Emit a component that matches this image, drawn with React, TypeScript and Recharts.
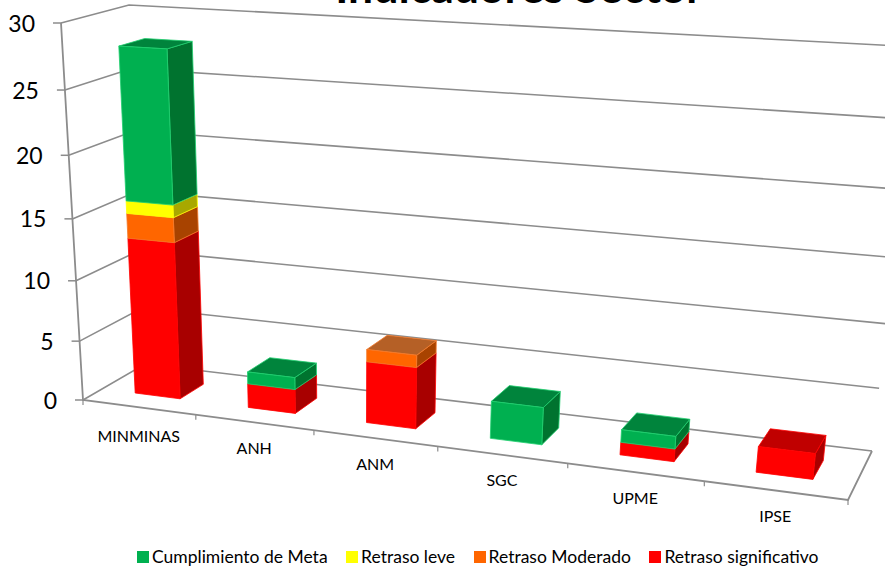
import { BarChart, Bar, XAxis, YAxis, CartesianGrid, Legend } from 'recharts'

const categories = ['MINMINAS', 'ANH', 'ANM', 'SGC', 'UPME', 'IPSE']
const significativo = [13, 2, 5, 0, 1, 2]
const moderado = [2, 0, 1, 0, 0, 0]
const leve = [1, 0, 0, 0, 0, 0]
const cumplimiento = [12, 1, 0, 3, 1, 0]
const yTicks = [0, 5, 10, 15, 20, 25, 30]

const tableData = categories.map((name, i) => ({
  name,
  significativo: significativo[i],
  moderado: moderado[i],
  leve: leve[i],
  cumplimiento: cumplimiento[i],
}))

const seriesOrder = ['significativo', 'moderado', 'leve', 'cumplimiento']

const W = 885
const H = 568
const FONT = 'Lato, "Open Sans", sans-serif'
const AXIS_COLOR = '#8c8c8c'

// flat plot box the library scales into, before it is bent into perspective
const PLOT = { left: 60, top: 40, width: 760, height: 420 }

type Pt = [number, number]

function quadMap(p0: Pt, p1: Pt, p2: Pt, p3: Pt) {
  const dx1 = p1[0] - p2[0]
  const dx2 = p3[0] - p2[0]
  const sx = p0[0] - p1[0] + p2[0] - p3[0]
  const dy1 = p1[1] - p2[1]
  const dy2 = p3[1] - p2[1]
  const sy = p0[1] - p1[1] + p2[1] - p3[1]
  const den = dx1 * dy2 - dx2 * dy1
  const g = (sx * dy2 - dx2 * sy) / den
  const h = (dx1 * sy - sx * dy1) / den
  const a = p1[0] - p0[0] + g * p1[0]
  const b = p3[0] - p0[0] + h * p3[0]
  const d = p1[1] - p0[1] + g * p1[1]
  const e = p3[1] - p0[1] + h * p3[1]
  return (u: number, v: number): Pt => {
    const q = g * u + h * v + 1
    return [(a * u + b * v + p0[0]) / q, (d * u + e * v + p0[1]) / q]
  }
}

const frontWall = quadMap([83, 400], [848, 500], [895, 68], [61, 23])
const backWall = quadMap([145, 364], [872, 451], [918, 47], [129, 5])

function project(u: number, v: number, w: number): Pt {
  const f = frontWall(u, v)
  const b = backWall(u, v)
  return [f[0] + (b[0] - f[0]) * w, f[1] + (b[1] - f[1]) * w]
}

const toU = (x: number) => (x - PLOT.left) / PLOT.width
const toV = (y: number) => (PLOT.top + PLOT.height - y) / PLOT.height
const pts = (list: Pt[]) => list.map(p => `${p[0].toFixed(1)},${p[1].toFixed(1)}`).join(' ')

const BAR_FRONT = 0.31
const BAR_BACK = 0.7

const faceColors: Record<string, { side: string; top: string; edge: string }> = {
  significativo: { side: '#a80000', top: '#c00000', edge: '#ff0000' },
  moderado: { side: '#a84300', top: '#b56026', edge: '#f2782a' },
  leve: { side: '#a8a800', top: '#c0c000', edge: '#ffff00' },
  cumplimiento: { side: '#00732f', top: '#00843c', edge: '#1fcf6f' },
}

function Bar3D(props: any) {
  const { x, y, width, height, fill, payload, seriesKey } = props
  if (!height || height <= 0) return null
  const u0 = toU(x)
  const u1 = toU(x + width)
  const vLow = toV(y + height)
  const vHigh = toV(y)
  const colors = faceColors[seriesKey]
  const idx = seriesOrder.indexOf(seriesKey)
  const isTop = seriesOrder.slice(idx + 1).every(k => !payload[k])

  const front = [project(u0, vLow, BAR_FRONT), project(u1, vLow, BAR_FRONT), project(u1, vHigh, BAR_FRONT), project(u0, vHigh, BAR_FRONT)]
  const side = [project(u1, vLow, BAR_FRONT), project(u1, vLow, BAR_BACK), project(u1, vHigh, BAR_BACK), project(u1, vHigh, BAR_FRONT)]
  const top = [project(u0, vHigh, BAR_FRONT), project(u1, vHigh, BAR_FRONT), project(u1, vHigh, BAR_BACK), project(u0, vHigh, BAR_BACK)]

  return (
    <g>
      <polygon points={pts(side)} fill={colors.side} stroke={colors.edge} strokeWidth={0.8} strokeLinejoin="round" />
      {isTop && <polygon points={pts(top)} fill={colors.top} stroke={colors.edge} strokeWidth={0.8} strokeLinejoin="round" />}
      <polygon points={pts(front)} fill={fill} stroke={colors.edge} strokeWidth={0.8} strokeLinejoin="round" />
    </g>
  )
}

function wallLine(props: any) {
  const v = toV(props.y1)
  const floor = Math.abs(v) < 1e-6
  const path = [project(0, v, 0), project(0, v, 1), project(1, v, 1)]
  return (
    <g key={`wall-${props.y1}`}>
      <polyline points={pts(path)} fill="none" stroke={AXIS_COLOR} strokeWidth={1.6} />
      {floor && (
        <polyline
          points={pts([project(0, 1, 0), project(0, 0, 0), project(1, 0, 0), project(1, 0, 1)])}
          fill="none"
          stroke={AXIS_COLOR}
          strokeWidth={1.8}
        />
      )}
    </g>
  )
}

function YTick(props: any) {
  const { y, payload } = props
  const p = project(0, toV(y), 0)
  return (
    <g>
      <line x1={p[0] - 8} y1={p[1]} x2={p[0]} y2={p[1]} stroke={AXIS_COLOR} strokeWidth={1.5} />
      <text x={p[0] - 26} y={p[1] + 8.5} textAnchor="end" fontFamily={FONT} fontSize={23} fill="#000">
        {payload.value}
      </text>
    </g>
  )
}

function XTick(props: any) {
  const { x, payload, index } = props
  const step = 1 / categories.length
  const u = toU(x)
  const p = project(u, 0, 0)
  const right = project(u + step / 2, 0, 0)
  const left = project(u - step / 2, 0, 0)
  return (
    <g>
      {index === 0 && <line x1={left[0]} y1={left[1]} x2={left[0]} y2={left[1] + 5} stroke={AXIS_COLOR} strokeWidth={1.2} />}
      <line x1={right[0]} y1={right[1]} x2={right[0]} y2={right[1] + 5} stroke={AXIS_COLOR} strokeWidth={1.2} />
      <text x={p[0]} y={p[1] + (index === 0 ? 35 : 31.5)} textAnchor="middle" fontFamily={FONT} fontSize={16} fill="#000">
        {payload.value}
      </text>
    </g>
  )
}

const legendLabels: Record<string, string> = {
  cumplimiento: 'Cumplimiento de Meta',
  leve: 'Retraso leve',
  moderado: 'Retraso Moderado',
  significativo: 'Retraso significativo',
}
const legendOrder = ['cumplimiento', 'leve', 'moderado', 'significativo'].map(k => legendLabels[k])

function LegendContent({ payload }: any) {
  const items = [...(payload || [])].sort((a, b) => legendOrder.indexOf(a.value) - legendOrder.indexOf(b.value))
  return (
    <div style={{ display: 'flex', gap: 18.5, fontFamily: FONT, fontSize: 17.5, lineHeight: '20px', color: '#000', whiteSpace: 'nowrap' }}>
      {items.map((item: any) => (
        <span key={item.value} style={{ display: 'flex', alignItems: 'center', gap: 3 }}>
          <span style={{ width: 12, height: 12, background: item.color, display: 'inline-block' }} />
          {item.value}
        </span>
      ))}
    </div>
  )
}

export default function App() {
  return (
    <div style={{ position: 'absolute', left: 0, top: 0, width: W, height: H, background: '#fff' }}>
      <BarChart
        width={W}
        height={H}
        data={tableData}
        barCategoryGap="30%"
        margin={{ top: PLOT.top, left: PLOT.left - 1, right: W - PLOT.left - PLOT.width, bottom: H - PLOT.top - PLOT.height - 1 }}
      >
        <text x={519} y={3} textAnchor="middle" fontFamily={FONT} fontSize={44.5} fontWeight={700} fill="#000">
          Indicadores Sector
        </text>
        <CartesianGrid horizontal={wallLine} vertical={false} />
        <XAxis dataKey="name" height={1} interval={0} axisLine={false} tickLine={false} tick={XTick} />
        <YAxis width={1} domain={[0, 30]} ticks={yTicks} interval={0} axisLine={false} tickLine={false} tick={YTick} />
        <Legend
          layout="horizontal"
          verticalAlign="middle"
          align="center"
          content={LegendContent}
          wrapperStyle={{ position: 'absolute', left: 137, top: 547, width: 'auto', height: 20 }}
        />
        {seriesOrder.map(key => (
          <Bar
            key={key}
            dataKey={key}
            name={legendLabels[key]}
            stackId="a"
            fill={{ significativo: '#ff0000', moderado: '#ff6600', leve: '#ffff00', cumplimiento: '#00b050' }[key]}
            isAnimationActive={false}
            shape={(p: any) => <Bar3D {...p} seriesKey={key} />}
          />
        ))}
      </BarChart>
    </div>
  )
}
